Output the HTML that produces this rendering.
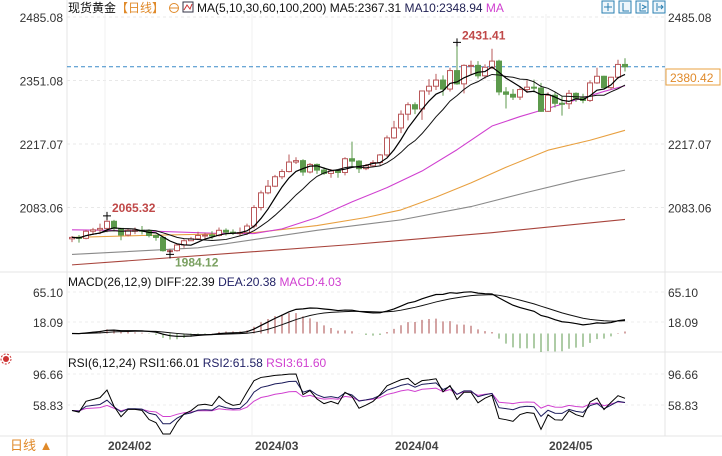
<!DOCTYPE html>
<html><head><meta charset="utf-8"><style>
html,body{margin:0;padding:0;background:#fff;}
svg{display:block;font-family:"Liberation Sans","Noto Sans CJK SC",sans-serif;}
</style></head><body>
<svg id="chart" width="722" height="456" viewBox="0 0 722 456" xmlns="http://www.w3.org/2000/svg">
<g id="grid"></g>
<g id="main"></g>
<g id="macd"></g>
<g id="rsi"></g>
<g id="labels"></g>

<text x="68" y="12" font-size="12"><tspan fill="#111">现货黄金</tspan><tspan fill="#e08a2a">【日线】</tspan></text>
<circle cx="174" cy="8" r="4.5" fill="none" stroke="#e08a2a"/>
<line x1="170" y1="8" x2="178" y2="8" stroke="#e08a2a"/>
<rect x="183" y="2" width="10" height="10" fill="none" stroke="#334"/>
<polyline points="184,10 187,5 190,9 192,4" fill="none" stroke="#c33"/>
<text x="197" y="12" font-size="12"><tspan fill="#111">MA(5,10,30,60,100,200)  MA5:2367.31  </tspan><tspan fill="#222255">MA10:2348.94  </tspan><tspan fill="#d040d0">MA</tspan></text>

<g>
<rect x="602" y="1" width="12" height="12" fill="#eef6fb" stroke="#2a7fb0"/>
<rect x="619" y="1" width="12" height="12" fill="#eef6fb" stroke="#2a7fb0"/>
<rect x="636" y="1" width="12" height="12" fill="#eef6fb" stroke="#2a7fb0"/>
<rect x="653" y="1" width="12" height="12" fill="#eef6fb" stroke="#2a7fb0"/>
<path d="M608 3v8M604 7h8M623 3v8h6M640 3v8h6M642 5l4 2-4 2M657 3v8M658 7h5M661 5l2 2-2 2" stroke="#2a7fb0" fill="none"/>
</g>

<rect x="666" y="69" width="54" height="16" fill="#fff" stroke="#e8a040"/>
<text x="670" y="82" font-size="12" fill="#e08a2a">2380.42</text>

<text x="68" y="286" font-size="12"><tspan fill="#111">MACD(26,12,9)  DIFF:22.39  </tspan><tspan fill="#222266">DEA:20.38  </tspan><tspan fill="#d040d0">MACD:4.03</tspan></text>
<text x="68" y="367" font-size="12"><tspan fill="#111">RSI(6,12,24)  RSI1:66.01  </tspan><tspan fill="#222266">RSI2:61.58  </tspan><tspan fill="#d040d0">RSI3:61.60</tspan></text>
<g>
<circle cx="6" cy="359" r="3" fill="#c33"/><circle cx="6" cy="359" r="5" fill="none" stroke="#c33" stroke-dasharray="2 1.5"/>
</g>
<text x="10" y="450" font-size="13" fill="#e08a2a">日线 ▲</text>
</svg>
<script>
const dates=["01/25","01/26","01/29","01/30","01/31","02/01","02/02","02/05","02/06","02/07","02/08","02/09","02/12","02/13","02/14","02/15","02/16","02/19","02/20","02/21","02/22","02/23","02/26","02/27","02/28","02/29","03/01","03/04","03/05","03/06","03/07","03/08","03/11","03/12","03/13","03/14","03/15","03/18","03/19","03/20","03/21","03/22","03/25","03/26","03/27","03/28","04/01","04/02","04/03","04/04","04/05","04/08","04/09","04/10","04/11","04/12","04/15","04/16","04/17","04/18","04/19","04/22","04/23","04/24","04/25","04/26","04/29","04/30","05/01","05/02","05/03","05/06","05/07","05/08","05/09","05/10","05/13","05/14","05/15","05/16"];
const opens=[2017,2020,2018,2033,2036,2039,2054,2039,2025,2035,2035,2034,2024,2020,1992,1992,2004,2013,2017,2024,2025,2024,2035,2031,2029,2030,2044,2083,2114,2128,2148,2159,2179,2182,2158,2174,2162,2155,2160,2157,2186,2181,2165,2171,2178,2194,2230,2251,2280,2300,2291,2329,2339,2352,2333,2372,2344,2383,2383,2361,2379,2392,2327,2322,2316,2332,2337,2335,2286,2320,2303,2302,2324,2314,2309,2346,2360,2336,2358,2385];
const highs=[2023,2025,2036,2040,2049,2065.32,2057,2040,2038,2041,2044,2037,2026,2022,1996,2006,2016,2021,2032,2030,2033,2041,2039,2037,2041,2049,2088,2119,2141,2152,2164,2195,2189,2185,2177,2176,2168,2164,2163,2189,2222,2183,2175,2183,2196,2235,2266,2288,2305,2305,2330,2354,2365,2362,2378,2431.41,2385,2393,2392,2385,2418,2395,2337,2333,2339,2352,2353,2346,2326,2326,2319,2331,2326,2323,2351,2378,2361,2359,2395,2398];
const lows=[2010,2009,2016,2027,2027,2031,2033,2014,2022,2027,2026,2020,2013,1990,1984.12,1990,1998,2013,2015,2018,2016,2022,2024,2025,2024,2025,2039,2077,2111,2126,2143,2157,2175,2150,2155,2154,2152,2146,2146,2151,2168,2156,2162,2168,2172,2190,2228,2240,2267,2280,2268,2321,2331,2319,2328,2342,2324,2364,2355,2355,2375,2320,2292,2310,2310,2325,2326,2285,2285,2294,2277,2291,2306,2303,2306,2344,2334,2332,2354,2370];
const closes=[2020,2018,2033,2036,2039,2054,2039,2025,2035,2035,2034,2024,2020,1992,1992,2004,2013,2017,2024,2025,2024,2035,2031,2029,2030,2044,2083,2114,2128,2148,2159,2179,2182,2158,2174,2162,2155,2160,2157,2186,2181,2165,2171,2178,2194,2230,2251,2280,2300,2291,2329,2339,2352,2333,2372,2344,2383,2383,2361,2379,2392,2327,2322,2316,2332,2337,2335,2286,2320,2303,2302,2324,2314,2309,2346,2360,2336,2358,2385,2380];
const ma30Idx=[0,10,20,26,30,35,40,45,50,55,60,64,67,72,76,79];
const ma30Val=[2036,2034,2029,2028,2038,2062,2095,2125,2160,2205,2255,2275,2288,2310,2328,2340];
const ma60Idx=[0,10,20,26,35,42,47,52,57,62,68,74,79];
const ma60Val=[2020,2024,2027,2030,2045,2062,2078,2105,2135,2168,2204,2225,2246];
const ma100Idx=[0,18,35,47,57,65,72,79];
const ma100Val=[1984,1998,2035,2057,2085,2115,2140,2162];
const ma200Idx=[0,40,60,79];
const ma200Val=[1962,2005,2030,2058];
const priceTicks=[2485.08,2351.08,2217.07,2083.06];
const macdTicks=[65.10,18.09];
const rsiTicks=[96.66,58.83];
const monthLabels=["2024/02","2024/03","2024/04","2024/05"];
const monthStartIdx=[5,26,46,68];

const NS="http://www.w3.org/2000/svg";
const X0=67,X1=665;
function xC(i){return 72+i*7;}
function yP(p){return 17+(2485.08-p)*0.4739;}
function yM(v){return 333.5-v*0.638;}
function yR(v){return 405-(v-58.83)*0.8195;}
function mk(parent,tag,attrs){const el=document.createElementNS(NS,tag);for(const k in attrs)el.setAttribute(k,attrs[k]);document.getElementById(parent).appendChild(el);return el;}

let e;
e=mk('grid','line',{x1:X0,y1:0,x2:X0,y2:456,stroke:'#e4e4e4'});


e=mk('grid','line',{x1:X1,y1:14,x2:X1,y2:436,stroke:'#e4e4e4'});


[272,352,436].forEach(y=>{e=mk('grid','line',{x1:0,y1:y,x2:722,y2:y,stroke:'#e4e4e4'});

});
priceTicks.forEach(p=>{e=mk('grid','line',{x1:X0,y1:yP(p),x2:X1,y2:yP(p),stroke:'#e8e8e8','stroke-dasharray':'3 3'});

});
macdTicks.forEach(v=>{e=mk('grid','line',{x1:X0,y1:yM(v),x2:X1,y2:yM(v),stroke:'#eee','stroke-dasharray':'3 3'});

});
rsiTicks.forEach(v=>{e=mk('grid','line',{x1:X0,y1:yR(v),x2:X1,y2:yR(v),stroke:'#eee','stroke-dasharray':'3 3'});

});
monthStartIdx.forEach((i,k)=>{const x=xC(i)-2;
e=mk('grid','line',{x1:x,y1:14,x2:x,y2:436,stroke:'#f0f0f0'});


e=mk('labels','text',{x:x+3,y:450,'font-size':12,'font-weight':'bold',fill:'#444'});e.textContent=monthLabels[k];

});
priceTicks.forEach(p=>{
e=mk('labels','text',{x:63,y:yP(p)+5,'font-size':12,fill:'#333','text-anchor':'end'});e.textContent=p.toFixed(2);


e=mk('labels','text',{x:668,y:yP(p)+5,'font-size':12,fill:'#333'});e.textContent=p.toFixed(2);

});
macdTicks.forEach(v=>{
e=mk('labels','text',{x:63,y:yM(v)+5,'font-size':12,fill:'#333','text-anchor':'end'});e.textContent=v.toFixed(2);


e=mk('labels','text',{x:668,y:yM(v)+5,'font-size':12,fill:'#333'});e.textContent=v.toFixed(2);

});
rsiTicks.forEach(v=>{
e=mk('labels','text',{x:63,y:yR(v)+5,'font-size':12,fill:'#333','text-anchor':'end'});e.textContent=v.toFixed(2);


e=mk('labels','text',{x:668,y:yR(v)+5,'font-size':12,fill:'#333'});e.textContent=v.toFixed(2);

});

const last=closes[closes.length-1];
e=mk('main','line',{x1:X0,y1:yP(last),x2:X1,y2:yP(last),stroke:'#3a8ac8','stroke-dasharray':'4 3'});



function sampled(idx,val,color,name){
  const pts=idx.map((i,k)=>xC(i)+','+yP(val[k])).join(' ');
  e=mk('main','polyline',{points:pts,fill:'none',stroke:color,'stroke-width':1.1,'stroke-linejoin':'round'});
  
  
}
sampled(ma200Idx,ma200Val,'#a8443c','ma200-line');
sampled(ma100Idx,ma100Val,'#8a8a8a','ma100-line');
sampled(ma60Idx,ma60Val,'#e8a040','ma60-line');
sampled(ma30Idx,ma30Val,'#d040d0','ma30-line');

const UP='#b9585a',DN='#5c9a4c';
closes.forEach((c,i)=>{
  const o=opens[i],h=highs[i],l=lows[i],x=xC(i),up=c>=o,col=up?UP:DN;
  e=mk('main','line',{x1:x,y1:yP(h),x2:x,y2:yP(l),stroke:col});
  
  
  const top=yP(Math.max(o,c)),bot=yP(Math.min(o,c));
  e=mk('main','rect',{x:x-2.5,y:top,width:5,height:Math.max(1,bot-top),fill:up?'#fff':DN,stroke:col});
  
  
});

function ma(n){return closes.map((_,i)=>{const s=closes.slice(Math.max(0,i-n+1),i+1);return s.reduce((a,b)=>a+b,0)/s.length;});}
function line(g,vals,fy,color,name,w){
  e=mk(g,'polyline',{points:vals.map((v,i)=>xC(i)+','+fy(v)).join(' '),fill:'none',stroke:color,'stroke-width':w||1});
  
  
}
line('main',ma(10),yP,'#111','ma10-line',1);
line('main',ma(5),yP,'#000','ma5-line',1.2);

function marker(i,p,label,color,dy){
  const x=xC(i),y=yP(p);
  e=mk('main','path',{d:'M'+(x-4)+' '+y+'h8M'+x+' '+(y-4)+'v8',stroke:'#000'});
  
  
  e=mk('main','text',{x:x+5,y:y+dy,'font-size':12,'font-weight':'bold',fill:color});e.textContent=label;
  
  
}
let hi=0,lo=0;highs.forEach((h,i)=>{if(h>highs[hi])hi=i;});lows.forEach((l,i)=>{if(l<lows[lo])lo=i;});
marker(hi,highs[hi],highs[hi].toFixed(2),'#c04848',-3);
marker(5,highs[5],highs[5].toFixed(2),'#c04848',-4);
marker(lo,lows[lo],lows[lo].toFixed(2),'#7aa060',12);

function ema(arr,n){const k=2/(n+1);let r=[];arr.forEach((v,i)=>r.push(i?r[i-1]+k*(v-r[i-1]):v));return r;}
const e12=ema(closes,12),e26=ema(closes,26);
const diff=closes.map((_,i)=>e12[i]-e26[i]);
const dea=ema(diff,9);
diff.forEach((d,i)=>{const m=2*(d-dea[i]);
  e=mk('macd','line',{x1:xC(i),y1:yM(0),x2:xC(i),y2:yM(m),stroke:m>=0?'#a84848':'#5c9a4c'});
  
  });
line('macd',dea,yM,'#111','dea-line',1);
line('macd',diff,yM,'#000','diff-line',1.2);

function rsi(n){let up=6,dn=5.5,r=[];for(let i=0;i<closes.length;i++){const d=i?closes[i]-closes[i-1]:0;up=(up*(n-1)+Math.max(d,0))/n;dn=(dn*(n-1)+Math.max(-d,0))/n;r.push(100*up/(up+dn));}return r;}
function clampR(v){return Math.min(434,Math.max(356,yR(v)));}
line('rsi',rsi(24),clampR,'#d040d0','rsi3-line',1);
line('rsi',rsi(12),clampR,'#1a1a5a','rsi2-line',1);
line('rsi',rsi(6),clampR,'#000','rsi1-line',1);
</script>
</body></html>
